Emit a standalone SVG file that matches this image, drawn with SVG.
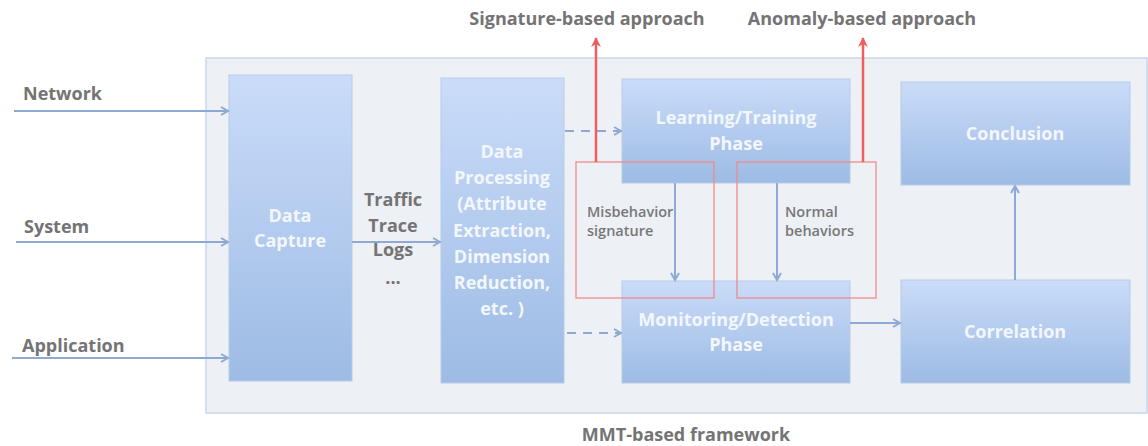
<svg xmlns="http://www.w3.org/2000/svg" width="1148" height="446" viewBox="0 0 1148 446">
<defs>
<linearGradient id="g" x1="0" y1="0" x2="0" y2="1">
<stop offset="0" stop-color="#cadcf9"/>
<stop offset="1" stop-color="#9dbbe4"/>
</linearGradient>
<marker id="ab" markerWidth="10" markerHeight="10" refX="8" refY="5" orient="auto" markerUnits="userSpaceOnUse">
<path d="M1,1 L8,5 L1,9" fill="none" stroke="#8eaad4" stroke-width="2"/>
</marker>
<marker id="ar" markerWidth="12" markerHeight="12" refX="9" refY="6" orient="auto" markerUnits="userSpaceOnUse">
<path d="M0,1 L10,6 L0,11 L3,6 Z" fill="#ef5f5f"/>
</marker>
</defs>
<style>
.box{fill:url(#g);stroke:#b7cbe8;stroke-width:1}
.bt{font-family:"Open Sans","Liberation Sans",sans-serif;font-weight:bold;font-size:18px;fill:#f3f7fd;text-anchor:middle}
.lb{font-family:"Open Sans","Liberation Sans",sans-serif;font-weight:bold;font-size:18px;fill:#747474}
.sm{font-family:"Open Sans","Liberation Sans",sans-serif;font-weight:600;font-size:14.5px;fill:#787878}
.c{stroke:#8eaad4;stroke-width:2;fill:none;marker-end:url(#ab)}
.d{stroke:#8eaad4;stroke-width:2;fill:none;stroke-dasharray:9,7;marker-end:url(#ab)}
.r{stroke:#ef5f5f;stroke-width:2.5;fill:none;marker-end:url(#ar)}
.rb{stroke:#f08a8a;stroke-width:1.3;fill:none}
</style>
<g id="framework">
<rect x="206" y="58" width="941" height="355" fill="#edf0f5" stroke="#c9d6ea" stroke-width="1.5"/>
<text class="lb" x="686" y="441" text-anchor="middle">MMT-based framework</text>
</g>
<g id="data-capture">
<rect class="box" x="229" y="75" width="123" height="306"/>
<text class="bt" x="290" y="222">Data</text>
<text class="bt" x="290" y="247">Capture</text>
</g>
<g id="data-processing">
<rect class="box" x="441" y="78" width="123" height="305"/>
<text class="bt" x="502" y="158">Data</text>
<text class="bt" x="502" y="184">Processing</text>
<text class="bt" x="502" y="210">(Attribute</text>
<text class="bt" x="502" y="237">Extraction,</text>
<text class="bt" x="502" y="263">Dimension</text>
<text class="bt" x="502" y="289">Reduction,</text>
<text class="bt" x="502" y="315">etc. )</text>
</g>
<g id="learning">
<rect class="box" x="622" y="79" width="228" height="104"/>
<text class="bt" x="736" y="124">Learning/Training</text>
<text class="bt" x="736" y="150">Phase</text>
</g>
<g id="monitoring">
<rect class="box" x="622" y="281" width="228" height="102"/>
<text class="bt" x="736" y="326">Monitoring/Detection</text>
<text class="bt" x="736" y="351">Phase</text>
</g>
<g id="conclusion">
<rect class="box" x="901" y="82" width="229" height="103"/>
<text class="bt" x="1015" y="140">Conclusion</text>
</g>
<g id="correlation">
<rect class="box" x="901" y="280" width="229" height="103"/>
<text class="bt" x="1015" y="338">Correlation</text>
</g>
<g id="inputs">
<text class="lb" x="23" y="100">Network</text>
<text class="lb" x="24" y="233">System</text>
<text class="lb" x="22" y="352">Application</text>
</g>
<g id="traffic">
<text class="lb" x="393" y="206" text-anchor="middle">Traffic</text>
<text class="lb" x="393" y="232" text-anchor="middle">Trace</text>
<text class="lb" x="393" y="256" text-anchor="middle">Logs</text>
<text class="lb" x="393" y="284" text-anchor="middle">...</text>
</g>
<g id="approaches">
<text class="lb" x="587" y="25" text-anchor="middle">Signature-based approach</text>
<text class="lb" x="862" y="25" text-anchor="middle">Anomaly-based approach</text>
<rect class="rb" x="576" y="162" width="138" height="136"/>
<rect class="rb" x="737" y="162" width="139" height="136"/>
<text class="sm" x="587" y="217">Misbehavior</text>
<text class="sm" x="587" y="236">signature</text>
<text class="sm" x="785" y="217">Normal</text>
<text class="sm" x="785" y="236">behaviors</text>
</g>
<g id="connectors">
<line class="c" x1="14" y1="111" x2="228" y2="111"/>
<line class="c" x1="16" y1="242" x2="228" y2="242"/>
<line class="c" x1="12" y1="358" x2="228" y2="358"/>
<line class="c" x1="352" y1="242" x2="440" y2="242"/>
<line class="d" x1="565" y1="131" x2="621" y2="131"/>
<line class="d" x1="567" y1="333" x2="621" y2="333"/>
<line class="c" x1="675" y1="183" x2="675" y2="280"/>
<line class="c" x1="777" y1="183" x2="777" y2="280"/>
<line class="c" x1="850" y1="323" x2="900" y2="323"/>
<line class="c" x1="1015" y1="280" x2="1015" y2="186"/>
<line class="r" x1="596" y1="162" x2="596" y2="38"/>
<line class="r" x1="863" y1="162" x2="863" y2="38"/>
</g>
</svg>
